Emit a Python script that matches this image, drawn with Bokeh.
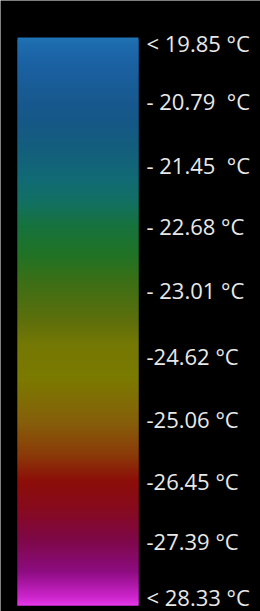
from bokeh.plotting import figure
from bokeh.models import Range1d, ColumnDataSource
from bokeh.core.properties import value
from bokeh.embed import file_html
from bokeh.resources import INLINE

# --- data ---
NB = "\u00a0"
labels = ["< 19.85 °C", "- 20.79" + NB + " °C", "- 21.45" + NB + " °C", "- 22.68 °C", "- 23.01 °C",
          "-24.62 °C", "-25.06 °C", "-26.45 °C", "-27.39 °C", "< 28.33 °C"]
label_pos = [0, 0.92, 1.95, 2.93, 3.97, 5.02, 6.03, 7.03, 8.0, 8.9]

# colour stops along the bar (fraction from top, colour)
stop_frac = [0.0, 0.01, 0.04, 0.10, 0.15, 0.20, 0.25, 0.29, 0.33, 0.38, 0.43, 0.50,
             0.54, 0.60, 0.675, 0.735, 0.78, 0.83, 0.885, 0.94, 0.985, 1.0]
stop_col = ["#2074b6", "#1d6cae", "#1b63a5", "#185a92", "#155886", "#135f7c",
            "#116a74", "#127062", "#16723e", "#1f7326", "#3c6f16", "#5e6f0b",
            "#747804", "#7b7a00", "#85600a", "#8a3a08", "#8c0e08", "#860a1e",
            "#7e0848", "#8c0c80", "#cc24cc", "#e53ae8"]

W, H = 260, 611
bar_left, bar_right = 17, 138
bar_top, bar_bottom = -0.096, 9.035

def hex2rgb(h):
    return tuple(int(h[i:i + 2], 16) for i in (1, 3, 5))

def colour_at(f):
    for i in range(len(stop_frac) - 1):
        if stop_frac[i] <= f <= stop_frac[i + 1]:
            t = (f - stop_frac[i]) / (stop_frac[i + 1] - stop_frac[i])
            a, b = hex2rgb(stop_col[i]), hex2rgb(stop_col[i + 1])
            return "#%02x%02x%02x" % tuple(round(a[k] + (b[k] - a[k]) * t) for k in range(3))
    return stop_col[-1]

n = 284
step = (bar_bottom - bar_top) / n
tops, bots, cols = [], [], []
for i in range(n):
    f0 = i / n
    f1 = (i + 1) / n
    tops.append(bar_top + step * i)
    bots.append(min(bar_bottom, bar_top + step * (i + 2)))
    cols.append(colour_at((f0 + f1) / 2))

p = figure(width=W, height=H, output_backend="svg", toolbar_location=None,
           x_range=Range1d(0, W), y_range=Range1d(9.132, -0.691),
           min_border=0, background_fill_color="black", border_fill_color="black")
p.axis.visible = False
p.grid.visible = False
p.outline_line_color = None

src = ColumnDataSource(dict(top=tops, bottom=bots, color=cols))
p.quad(left=bar_left, right=bar_right, top="top", bottom="bottom",
       fill_color="color", line_color=None, source=src)

tsrc = ColumnDataSource(dict(y=label_pos, text=labels))
p.text(x=146, y="y", text="text", source=tsrc, text_color="#e8e8e8",
       text_font=value("Open Sans"), text_font_size="22px",
       text_baseline="middle", text_align="left")

open("out.html", "w").write(file_html(p, INLINE))
